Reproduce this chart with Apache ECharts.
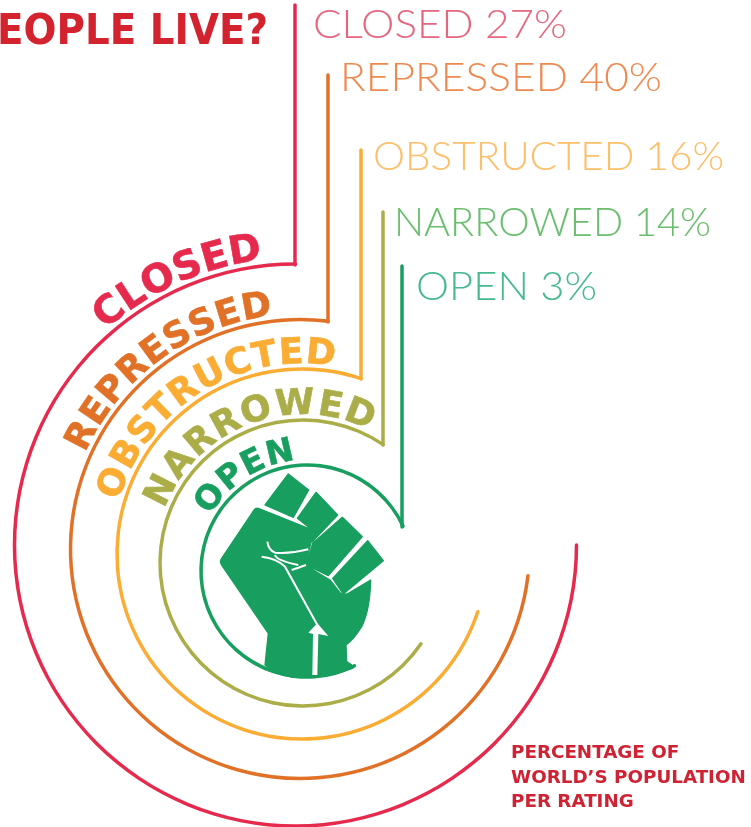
<!DOCTYPE html>
<html><head><meta charset="utf-8">
<style>html,body{margin:0;padding:0;background:#fff}#c{width:751px;height:827px}</style>
<script src="https://cdn.jsdelivr.net/npm/echarts@6/dist/echarts.min.js"></script></head>
<body><div id="c"></div>
<script>
const categories = ['CLOSED','REPRESSED','OBSTRUCTED','NARROWED','OPEN'];
const shares = [27,40,16,14,3];
const arcColors = ['#E52A4E','#E07127','#FAAC33','#ABAD48','#189E5E'];
const labelColors = ['#E5677F','#EE8A50','#FDBF6A','#6ABE6E','#46B98D'];
const titleText = 'EOPLE LIVE?';
const noteLines = ['PERCENTAGE OF','WORLD\u2019S POPULATION','PER RATING'];

// layout
const arcs = [
 {c:[295.5,545],r:281,s:0,e:-270},
 {c:[300,549],r:229.5,s:-6.7,e:-277},
 {c:[302,554],r:185,s:-18.2,e:-288.6},
 {c:[303,563],r:143,s:-34.4,e:-304.1},
 {c:[307,571],r:106,s:-63.4,e:-335}
];
const leaders = [[295,5,265],[328,75,322],[361,150,379],[383,212,445],[402,266,527]];
const labelBox = [[313,567,25],[340,662,78],[373,724,157],[394,711,223],[416,597,287]];
const curved = [
 {a0:131.5,a1:96.5,size:39},{a0:156,a1:96.5,size:36},{a0:164,a1:80,size:36},{a0:159,a1:63,size:36},{a0:150.5,a1:95.5,size:33}
];
const fist = 'M235,235 L385,295 Q395,305 395,330 L375,405 L450,450 L480,488 Q490,497 505,490 L572,450 Q570,540 545,590 Q520,630 498,645 L500,695 L520,708 Q525,712 515,716 Q440,745 340,742 Q290,735 255,705 L265,610 L125,405 Q118,395 125,385 L222,240 Q228,232 235,235 Z '
 +'M325,132 L386,180 L340,262 L255,225 Z M408,187 L473,255 L397,335 L390,295 L352,265 Z M487,262 L547,320 L445,437 L378,405 L398,340 Z M563,332 L610,392 L490,492 L458,445 Z';
const fistLines = 'M245,380 Q290,385 315,410 L415,590 M262,335 Q265,360 285,368 Q330,372 385,358 M285,375 Q290,392 355,405 M335,420 Q350,415 378,405';
const fistArrow = 'M385,608 L412,580 L445,618 L415,612 L412,735 L397,735 L399,612 Z';

const ctx = document.createElement('canvas').getContext('2d');
function measure(t,font){ctx.font=font;return ctx.measureText(t).width;}

const graphics = [];

// curved names
categories.forEach((name,i)=>{
  const cv=curved[i],ar=arcs[i],font=`700 ${cv.size}px "DejaVu Sans"`;
  const ws=[...name].map(ch=>measure(ch,font));
  const total=ws.reduce((a,b)=>a+b,0);
  const capR=ar.r+2+cv.size*0.365;
  let used=0;
  [...name].forEach((ch,j)=>{
    const mid=(used+ws[j]/2)/total; used+=ws[j];
    const deg=cv.a0+(cv.a1-cv.a0)*mid, rad=deg*Math.PI/180;
    graphics.push({type:'text',x:ar.c[0]+capR*Math.cos(rad),y:ar.c[1]-capR*Math.sin(rad),
      rotation:rad-Math.PI/2,silent:true,
      style:{text:ch,font,fill:arcColors[i],stroke:arcColors[i],lineWidth:0.6,textAlign:'center',textVerticalAlign:'middle'}});
  });
});

// thin labels
categories.forEach((name,i)=>{
  const t=name+' '+shares[i]+'%',font='300 39px Lato',b=labelBox[i];
  const sx=(b[1]-b[0])/measure(t,font);
  graphics.push({type:'text',x:b[0],y:b[2],originX:0,originY:0,scaleX:sx,silent:true,
    style:{text:t,font,fill:labelColors[i],textAlign:'left',textVerticalAlign:'middle'}});
});

const titleFont='700 42px "DejaVu Sans"';
graphics.push({type:'text',x:268,y:33,scaleX:271/measure(titleText,titleFont),silent:true,
  style:{text:titleText,font:titleFont,fill:'#D2232E',textAlign:'right',textVerticalAlign:'middle'}});
noteLines.forEach((t,i)=>graphics.push({type:'text',x:511,y:[753,778,802][i],silent:true,
  style:{text:t,font:'700 18.3px "DejaVu Sans"',fill:'#CF2233',textAlign:'left',textVerticalAlign:'middle'}}));

const series = [];
categories.forEach((name,i)=>{
  const a=arcs[i];
  series.push({type:'gauge',name,center:a.c,radius:a.r+1.75,startAngle:a.s,endAngle:a.e,min:0,max:100,silent:true,
    axisLine:{roundCap:true,lineStyle:{width:3.5,color:[[1,arcColors[i]]]}},
    progress:{show:false},pointer:{show:false},axisTick:{show:false},splitLine:{show:false},axisLabel:{show:false},
    title:{show:false},detail:{show:false},data:[{value:shares[i],name}]});
  const l=leaders[i];
  series.push({type:'line',name:name+' leader',symbol:'none',silent:true,data:[[l[0],l[1]],[l[0],l[2]]],
    lineStyle:{color:arcColors[i],width:3.5,cap:'round'}});
});
series.push({type:'custom',coordinateSystem:'none',silent:true,data:[0],renderItem(){
  const t={x:180,y:430,scaleX:1/3,scaleY:1/3};
  return {type:'group',children:[
    {type:'path',...t,shape:{pathData:fist},style:{fill:arcColors[4],stroke:arcColors[4],lineWidth:4,lineJoin:'round'}},
    {type:'path',...t,shape:{pathData:fistLines},style:{fill:'none',stroke:'#fff',lineWidth:6}},
    {type:'path',...t,shape:{pathData:fistArrow},style:{fill:'#fff'}}
  ]};
}});

const chart=echarts.init(document.getElementById('c'),null,{renderer:'canvas'});
chart.setOption({animation:false,backgroundColor:'#fff',
  grid:{left:0,right:0,top:0,bottom:0},
  xAxis:{type:'value',min:0,max:751,show:false},
  yAxis:{type:'value',min:0,max:827,inverse:true,show:false},
  graphic:{elements:graphics},series});
</script></body></html>
